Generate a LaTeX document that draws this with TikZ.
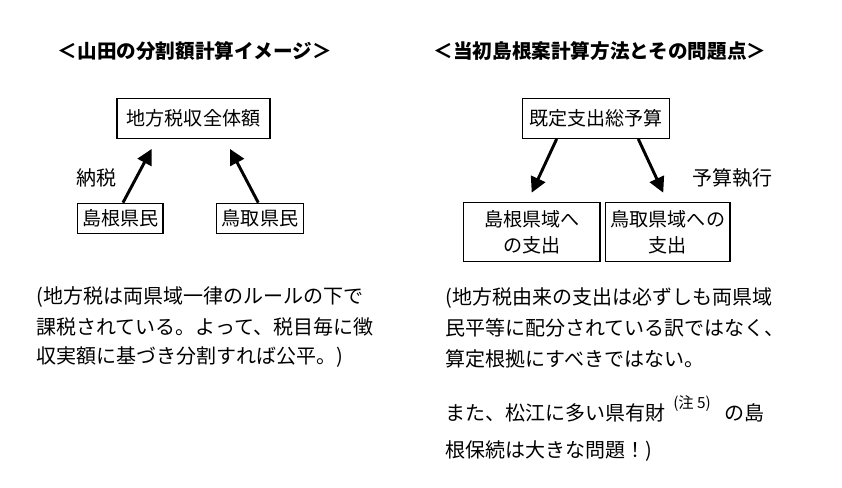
\documentclass[tikz,border=0pt]{standalone}
\usepackage{fontspec}
\setmainfont{Noto Sans CJK JP}
\usetikzlibrary{arrows.meta,positioning}

\tikzset{
  box/.style={rectangle, draw, line width=1pt, inner sep=0pt, align=center,
    font=\fontsize{14.3}{20}\selectfont},
  flow/.style={line width=2.2pt, -{Triangle[length=11.5pt,width=11.5pt]}},
  riga/.style={anchor=west, inner sep=0pt},
  titolo/.style={font=\fontsize{14.7}{20}\selectfont\bfseries},
}

\begin{document}
\begin{tikzpicture}[x=0.75pt, y=-0.75pt, font=\fontsize{15}{20}\selectfont]
\useasboundingbox (0,0) rectangle (842,487);

% Yamada
\node[titolo] (titolo1) at (195,51) {＜山田の分割額計算イメージ＞};
\node[box, minimum width=114.8pt, minimum height=30pt] (totale) at (193.5,118.3) {地方税収全体額};
\node[box, minimum width=64pt, minimum height=22.5pt] (shimane1) at (120.3,218.3) {島根県民};
\node[box, minimum width=65pt, minimum height=22.5pt] (tottori1) at (260,218.3) {鳥取県民};
\draw[flow] ([xshift=2pt]shimane1.north) -- ([xshift=-31.4pt,yshift=-7.5pt]totale.south);
\draw[flow] ([xshift=-1.3pt]tottori1.north) -- ([xshift=27.4pt,yshift=-7.5pt]totale.south);
\node (nozei) at (96,178) {納税};

\node[riga] (sx1) at (36,297) {(地方税は両県域一律のルールの下で};
\node[riga] (sx2) at (36,327) {課税されている。よって、税目毎に徴};
\node[riga] (sx3) at (36,357) {収実額に基づき分割すれば公平。)};

% Shimane
\node[titolo] (titolo2) at (600,51) {＜当初島根案計算方法とその問題点＞};
\node[box, minimum width=110pt, minimum height=30pt] (bilancio) at (596,118.3) {既定支出総予算};
\node[box, minimum width=102.5pt, minimum height=44.3pt] (shimane2) at (531.7,232.2) {島根県域へ\\の支出};
\node[box, minimum width=93.2pt, minimum height=44.3pt] (tottori2) at (667.9,232.2) {鳥取県域への\\支出};
\draw[flow] ([xshift=-29.5pt]bilancio.south) -- ([yshift=7pt]shimane2.north);
\draw[flow] ([xshift=31.7pt]bilancio.south) -- ([xshift=-3.5pt,yshift=7pt]tottori2.north);
\node (esecuzione) at (732,178) {予算執行};

\node[riga] (dx1) at (445,298) {(地方税由来の支出は必ずしも両県域};
\node[riga] (dx2) at (445,328) {民平等に配分されている訳ではなく、};
\node[riga] (dx3) at (445,359) {算定根拠にすべきではない。};
\node[riga] (dx4) at (445,409) {また、松江に多い県有財\hspace{0.4em}\raisebox{1.1ex}{\fontsize{11.5}{12}\selectfont (注 5)}\hspace{0.7em}の島};
\node[riga] (dx5) at (445,451) {根保続は大きな問題！)};
\end{tikzpicture}
\end{document}
